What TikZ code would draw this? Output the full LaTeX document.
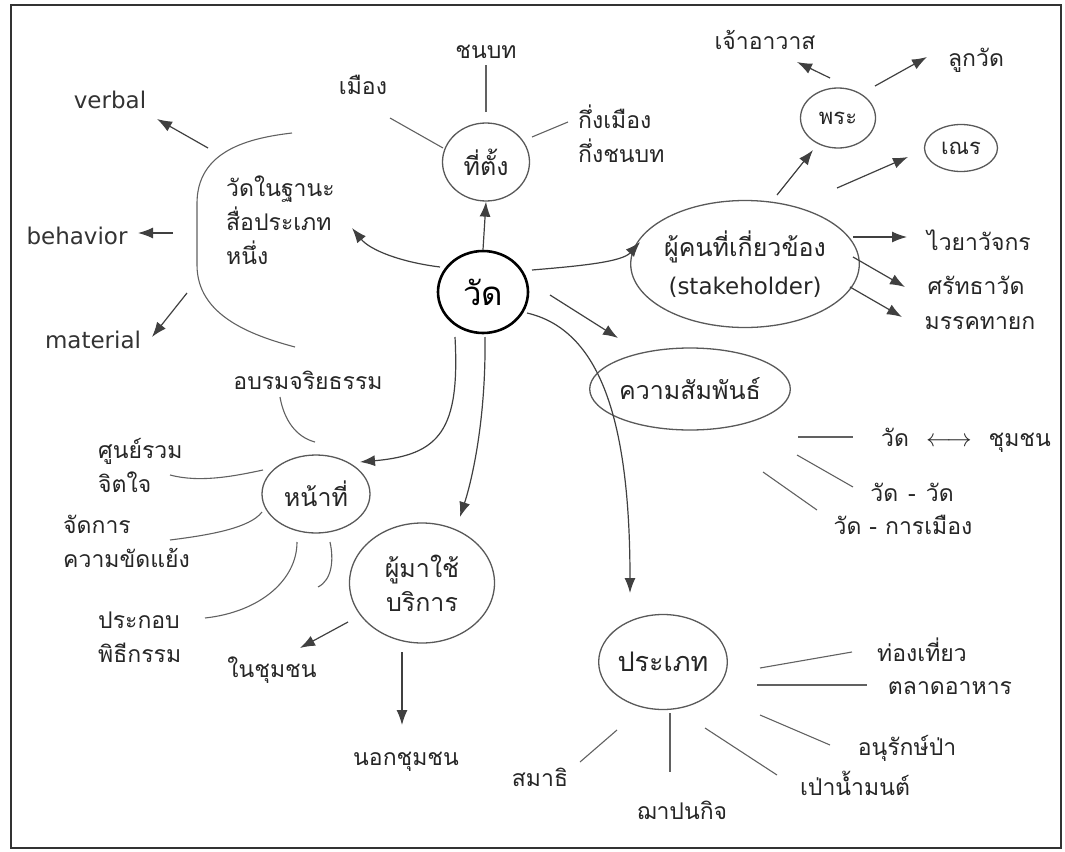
\documentclass[tikz,border=0pt]{standalone}
\usepackage{fontspec}
\newfontfamily\thai[Script=Thai]{Loma}
\newfontfamily\dejavu{DejaVu Sans}
\usetikzlibrary{shapes.geometric,arrows.meta}
\tikzset{
  ln/.style={draw=black!62, line width=1.1pt},
  arr/.style={draw=black!75, line width=1.2pt, -{Latex[length=15pt,width=11pt]}},
  ell/.style={ellipse, draw=black!65, line width=1.3pt, inner sep=0pt, font=\thai\fontsize{25}{34}\selectfont, text=black!85, align=center},
  lbl/.style={font=\thai\fontsize{23}{34}\selectfont, text=black!85, inner sep=0pt, align=left},
  lat/.style={font=\dejavu\fontsize{23}{26}\selectfont, text=black!80, inner sep=0pt},
}
\begin{document}
\begin{tikzpicture}[x=1pt,y=-1pt]
\useasboundingbox (0,0) rectangle (1065,851);
\draw[black!80, line width=1.6pt] (11,5) rectangle (1061,848);

% main nodes
\node[ell, draw=black, line width=2.6pt, minimum width=90pt, minimum height=82pt, font=\thai\fontsize{33}{33}\selectfont, text=black] (wat) at (483,292) {วัด};
\node[ell, minimum width=87pt, minimum height=78pt] (loc) at (486,162) {ที่ตั้ง};
\node[ell, minimum width=185pt, minimum height=127pt, font=\thai\fontsize{25}{38}\selectfont] (stake) at (745,264) {ผู้คนที่เกี่ยวข้อง\\{\dejavu\fontsize{23}{38}\selectfont(stakeholder)}};
\node[ell, minimum width=75pt, minimum height=60pt, font=\thai\fontsize{22}{24}\selectfont] (monk) at (838,118) {พระ};
\node[ell, minimum width=73pt, minimum height=47pt, font=\thai\fontsize{22}{24}\selectfont] (novice) at (961,148) {เณร};
\node[ell, minimum width=180pt, minimum height=82pt] (rel) at (690,389) {ความสัมพันธ์};
\node[ell, minimum width=108pt, minimum height=78pt] (duty) at (316,494) {หน้าที่};
\node[ell, minimum width=145pt, minimum height=120pt] (users) at (422,583) {ผู้มาใช้\\บริการ};
\node[ell, minimum width=128pt, minimum height=95pt, font=\thai\fontsize{27}{34}\selectfont] (type) at (663,662) {ประเภท};

% labels
\node[lbl, anchor=west] (media) at (226,220) {วัดในฐานะ\\สื่อประเภท\\หนึ่ง};
\node[lat] (verbal) at (110,100) {verbal};
\node[lat] (behavior) at (77,236) {behavior};
\node[lat] (material) at (93,340) {material};
\node[lbl] (rural) at (486,52) {ชนบท};
\node[lbl] (city) at (363,85) {เมือง};
\node[lbl, anchor=west] (semi) at (578,134) {กึ่งเมือง\\กึ่งชนบท};
\node[lbl] (abbot) at (765,40) {เจ้าอาวาส};
\node[lbl] (disciple) at (976,60) {ลูกวัด};
\node[lbl] (steward) at (979,240) {ไวยาวัจกร};
\node[lbl] (faithful) at (976,285) {ศรัทธาวัด};
\node[lbl] (laylead) at (980,323) {มรรคทายก};
\node[lbl] (r1) at (966,440) {วัด\hspace{17pt}$\longleftrightarrow$\hspace{17pt}ชุมชน};
\node[lbl] (r2) at (912,492) {วัด\hspace{10pt}-\hspace{10pt}วัด};
\node[lbl] (r3) at (903,525) {วัด\hspace{8pt}-\hspace{8pt}การเมือง};
\node[lbl] (ethics) at (308,380) {อบรมจริยธรรม};
\node[lbl, anchor=west] (center) at (98,465) {ศูนย์รวม\\จิตใจ};
\node[lbl, anchor=west] (conflict) at (63,541) {จัดการ\\ความขัดแย้ง};
\node[lbl, anchor=west] (ritual) at (98,637) {ประกอบ\\พิธีกรรม};
\node[lbl] (inside) at (272,670) {ในชุมชน};
\node[lbl] (outside) at (406,762) {นอกชุมชน};
\node[lbl] (tour) at (922,650) {ท่องเที่ยว};
\node[lbl] (market) at (950,688) {ตลาดอาหาร};
\node[lbl] (forest) at (907,748) {อนุรักษ์ป่า};
\node[lbl] (holy) at (855,783) {เป่าน้ำมนต์};
\node[lbl] (crem) at (682,810) {ฌาปนกิจ};
\node[lbl] (medit) at (540,777) {สมาธิ};

% free-end coordinates
\coordinate (m1) at (440,267); \coordinate (m2) at (352,228);
\coordinate (s1) at (532,270); \coordinate (s2) at (640,242);
\coordinate (q1) at (550,295); \coordinate (q2) at (618,338);
\coordinate (t1) at (527,313); \coordinate (t2) at (630,593);
\coordinate (u1) at (485,337); \coordinate (u2) at (460,517);
\coordinate (d1) at (455,337); \coordinate (d2) at (360,462);

% connectors from wat
\draw[arr] (wat.north) -- (loc.south);
\draw[arr] (m1) .. controls (400,262) and (370,250) .. (m2);
\draw[arr] (s1) .. controls (580,266) and (622,262) .. (s2);
\draw[arr] (q1) -- (q2);
\draw[arr] (t1) .. controls (600,330) and (630,420) .. (t2);
\draw[arr] (u1) .. controls (486,420) and (472,480) .. (u2);
\draw[arr] (d1) .. controls (460,430) and (440,455) .. (d2);

% location
\coordinate (l1) at (486,112); \coordinate (l2) at (486,65);
\draw[ln] (l1) -- (l2);
\coordinate (l3) at (443,148); \coordinate (l4) at (390,118);
\draw[ln] (l3) -- (l4);
\coordinate (l5) at (532,137); \coordinate (l6) at (568,122);
\draw[ln] (l5) -- (l6);

% media bracket and arrows
\coordinate (b1) at (292,133); \coordinate (b2) at (295,347);
\draw[ln] (b1) .. controls (250,138) and (196,150) .. (197,205)
  -- (197,265) .. controls (197,315) and (250,335) .. (b2);
\coordinate (v1) at (208,148); \coordinate (v0) at (157,119); \draw[arr] (v1) -- (v0);
\coordinate (v2) at (173,233); \coordinate (v3) at (138,233); \draw[arr] (v2) -- (v3);
\coordinate (v4) at (187,293); \coordinate (v5) at (152,337); \draw[arr] (v4) -- (v5);

% stakeholder
\coordinate (k1) at (777,195); \coordinate (k2) at (813,150);
\draw[arr] (k1) -- (k2);
\coordinate (k3) at (837,188); \coordinate (k4) at (908,157);
\draw[arr] (k3) -- (k4);
\coordinate (k5) at (830,78); \coordinate (k6) at (797,62);
\draw[arr] (k5) -- (k6);
\coordinate (k7) at (875,86); \coordinate (k8) at (927,57);
\draw[arr] (k7) -- (k8);
\coordinate (k9) at (853,237); \coordinate (k10) at (907,237);
\draw[arr] (k9) -- (k10);
\coordinate (k11) at (853,257); \coordinate (k12) at (905,287);
\draw[arr] (k11) -- (k12);
\coordinate (k13) at (850,287); \coordinate (k14) at (902,317);
\draw[arr] (k13) -- (k14);

% relations
\coordinate (e1) at (798,437); \coordinate (e2) at (853,437); \draw[ln] (e1) -- (e2);
\coordinate (e3) at (797,455); \coordinate (e4) at (853,487); \draw[ln] (e3) -- (e4);
\coordinate (e5) at (763,472); \coordinate (e6) at (817,510); \draw[ln] (e5) -- (e6);

% duty
\coordinate (f1) at (280,397); \coordinate (f2) at (315,442);
\draw[ln] (f1) .. controls (284,420) and (296,437) .. (f2);
\coordinate (f3) at (170,475); \coordinate (f4) at (263,470);
\draw[ln] (f3) .. controls (200,483) and (235,476) .. (f4);
\coordinate (f5) at (170,540); \coordinate (f6) at (262,512);
\draw[ln] (f5) .. controls (210,535) and (250,528) .. (f6);
\coordinate (f7) at (205,618); \coordinate (f8) at (297,542);
\draw[ln] (f7) .. controls (260,612) and (297,580) .. (f8);
\coordinate (f9) at (330,542); \coordinate (f10) at (318,587);
\draw[ln] (f9) .. controls (334,560) and (332,580) .. (f10);

% users
\coordinate (g1) at (348,622); \coordinate (g2) at (300,648); \draw[arr] (g1) -- (g2);
\coordinate (g3) at (402,652); \coordinate (g4) at (402,725); \draw[arr] (g3) -- (g4);

% type
\coordinate (h1) at (760,668); \coordinate (h2) at (852,652); \draw[ln] (h1) -- (h2);
\coordinate (h3) at (757,685); \coordinate (h4) at (867,685); \draw[ln] (h3) -- (h4);
\coordinate (h5) at (760,715); \coordinate (h6) at (830,745); \draw[ln] (h5) -- (h6);
\coordinate (h7) at (705,728); \coordinate (h8) at (777,775); \draw[ln] (h7) -- (h8);
\coordinate (h11) at (670,713); \coordinate (h12) at (670,772); \draw[ln] (h11) -- (h12);
\coordinate (h9) at (617,730); \coordinate (h10) at (580,762); \draw[ln] (h9) -- (h10);
\end{tikzpicture}
\end{document}
